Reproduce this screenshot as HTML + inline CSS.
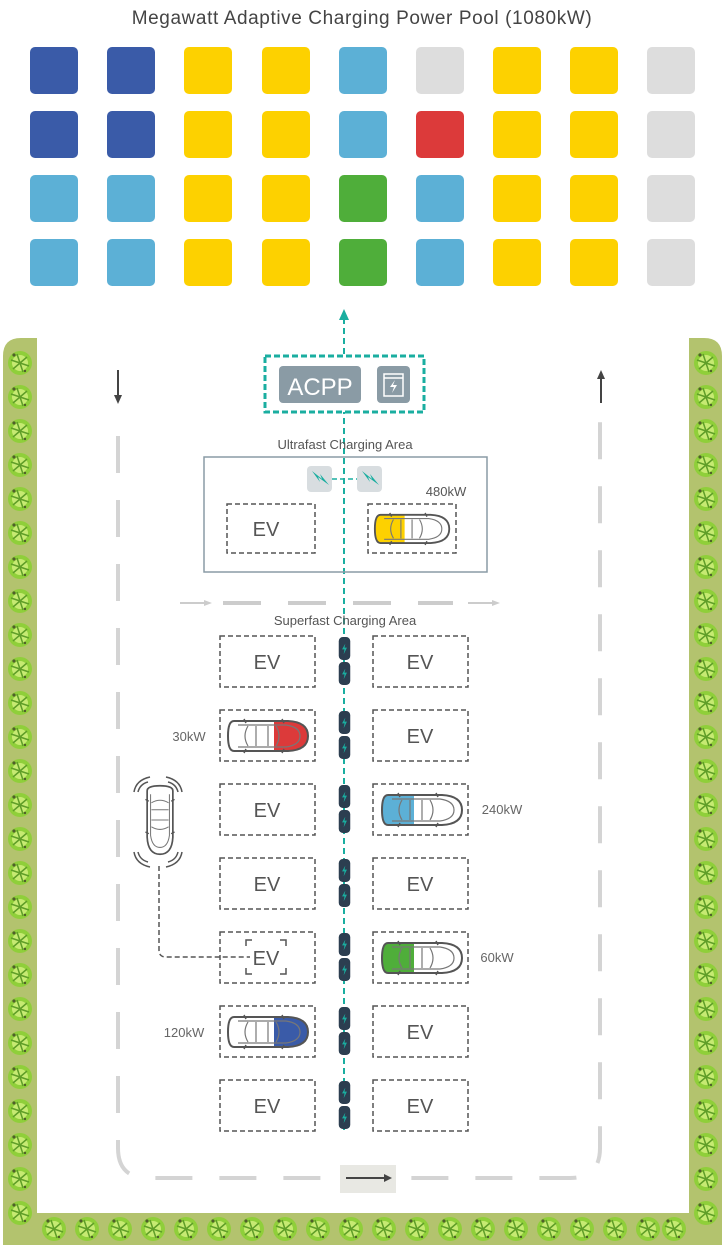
<!DOCTYPE html>
<html><head><meta charset="utf-8"><style>
html,body{margin:0;padding:0;background:#fff;}
svg{display:block;}
text{font-family:"Liberation Sans",sans-serif;}
</style></head><body>
<svg width="725" height="1247" viewBox="0 0 725 1247" xmlns="http://www.w3.org/2000/svg">
<defs>
  <symbol id="tree" viewBox="-13 -13 26 26">
    <circle r="12" fill="#8fcf3a"/>
    <circle r="8" fill="#c6ea72"/>
    <path d="M-9 -3 L9 3 M-3 -9 L3 9 M-7 6 L7 -6" stroke="#5f9e28" stroke-width="1.5"/>
    <circle cx="-6" cy="-8" r="1.6" fill="#4f5f2a"/>
    <circle cx="5" cy="8" r="1.2" fill="#4f5f2a"/>
  </symbol>
  <symbol id="bolt" viewBox="0 0 14 28">
    <rect x="0" y="0" width="14" height="28" rx="5" fill="#2c3e50"/>
    <path d="M8 8 L4 15 L7 15 L6 21 L10 13 L7 13 Z" fill="#1aaea0"/>
  </symbol>
  <symbol id="car" viewBox="0 0 84 36">
    <path d="M8 3 Q2 3 2 18 Q2 33 8 33 L62 33 Q82 32 82 18 Q82 4 62 3 Z" fill="none" stroke="#555" stroke-width="2"/>
    <path d="M12 7 L60 7 Q74 9 74 18 Q74 27 60 29 L12 29" fill="none" stroke="#777" stroke-width="1.2"/>
    <path d="M22 8 Q16 18 22 28 M50 8 Q56 18 50 28 M30 8 L30 28 M42 8 L42 28" fill="none" stroke="#777" stroke-width="1.2"/>
    <path d="M18 1 L20 5 M18 35 L20 31 M56 1 L58 5 M56 35 L58 31" stroke="#555" stroke-width="1.5"/>
  </symbol>
</defs>

<text x="362" y="24" text-anchor="middle" font-size="19" fill="#444" letter-spacing="0.6">Megawatt Adaptive Charging Power Pool (1080kW)</text>

<g id="grid">
<rect x="30" y="47" width="48" height="47" rx="5" fill="#3a5ba8"/>
<rect x="107" y="47" width="48" height="47" rx="5" fill="#3a5ba8"/>
<rect x="184" y="47" width="48" height="47" rx="5" fill="#fdd100"/>
<rect x="262" y="47" width="48" height="47" rx="5" fill="#fdd100"/>
<rect x="339" y="47" width="48" height="47" rx="5" fill="#5cb0d6"/>
<rect x="416" y="47" width="48" height="47" rx="5" fill="#dddddd"/>
<rect x="493" y="47" width="48" height="47" rx="5" fill="#fdd100"/>
<rect x="570" y="47" width="48" height="47" rx="5" fill="#fdd100"/>
<rect x="647" y="47" width="48" height="47" rx="5" fill="#dddddd"/>
<rect x="30" y="111" width="48" height="47" rx="5" fill="#3a5ba8"/>
<rect x="107" y="111" width="48" height="47" rx="5" fill="#3a5ba8"/>
<rect x="184" y="111" width="48" height="47" rx="5" fill="#fdd100"/>
<rect x="262" y="111" width="48" height="47" rx="5" fill="#fdd100"/>
<rect x="339" y="111" width="48" height="47" rx="5" fill="#5cb0d6"/>
<rect x="416" y="111" width="48" height="47" rx="5" fill="#dc3a3a"/>
<rect x="493" y="111" width="48" height="47" rx="5" fill="#fdd100"/>
<rect x="570" y="111" width="48" height="47" rx="5" fill="#fdd100"/>
<rect x="647" y="111" width="48" height="47" rx="5" fill="#dddddd"/>
<rect x="30" y="175" width="48" height="47" rx="5" fill="#5cb0d6"/>
<rect x="107" y="175" width="48" height="47" rx="5" fill="#5cb0d6"/>
<rect x="184" y="175" width="48" height="47" rx="5" fill="#fdd100"/>
<rect x="262" y="175" width="48" height="47" rx="5" fill="#fdd100"/>
<rect x="339" y="175" width="48" height="47" rx="5" fill="#4fae3a"/>
<rect x="416" y="175" width="48" height="47" rx="5" fill="#5cb0d6"/>
<rect x="493" y="175" width="48" height="47" rx="5" fill="#fdd100"/>
<rect x="570" y="175" width="48" height="47" rx="5" fill="#fdd100"/>
<rect x="647" y="175" width="48" height="47" rx="5" fill="#dddddd"/>
<rect x="30" y="239" width="48" height="47" rx="5" fill="#5cb0d6"/>
<rect x="107" y="239" width="48" height="47" rx="5" fill="#5cb0d6"/>
<rect x="184" y="239" width="48" height="47" rx="5" fill="#fdd100"/>
<rect x="262" y="239" width="48" height="47" rx="5" fill="#fdd100"/>
<rect x="339" y="239" width="48" height="47" rx="5" fill="#4fae3a"/>
<rect x="416" y="239" width="48" height="47" rx="5" fill="#5cb0d6"/>
<rect x="493" y="239" width="48" height="47" rx="5" fill="#fdd100"/>
<rect x="570" y="239" width="48" height="47" rx="5" fill="#fdd100"/>
<rect x="647" y="239" width="48" height="47" rx="5" fill="#dddddd"/>
</g>

<path d="M3 1245 L3 356 Q3 338 21 338 L37 338 L37 1213 L689 1213 L689 338 L704 338 Q722 338 722 356 L722 1245 Z" fill="#b3c36e"/>
<g id="trees">
<use href="#tree" x="7" y="350" width="26" height="26"/><use href="#tree" x="7" y="384" width="26" height="26"/><use href="#tree" x="7" y="418" width="26" height="26"/><use href="#tree" x="7" y="452" width="26" height="26"/><use href="#tree" x="7" y="486" width="26" height="26"/><use href="#tree" x="7" y="520" width="26" height="26"/><use href="#tree" x="7" y="554" width="26" height="26"/><use href="#tree" x="7" y="588" width="26" height="26"/><use href="#tree" x="7" y="622" width="26" height="26"/><use href="#tree" x="7" y="656" width="26" height="26"/><use href="#tree" x="7" y="690" width="26" height="26"/><use href="#tree" x="7" y="724" width="26" height="26"/><use href="#tree" x="7" y="758" width="26" height="26"/><use href="#tree" x="7" y="792" width="26" height="26"/><use href="#tree" x="7" y="826" width="26" height="26"/><use href="#tree" x="7" y="860" width="26" height="26"/><use href="#tree" x="7" y="894" width="26" height="26"/><use href="#tree" x="7" y="928" width="26" height="26"/><use href="#tree" x="7" y="962" width="26" height="26"/><use href="#tree" x="7" y="996" width="26" height="26"/><use href="#tree" x="7" y="1030" width="26" height="26"/><use href="#tree" x="7" y="1064" width="26" height="26"/><use href="#tree" x="7" y="1098" width="26" height="26"/><use href="#tree" x="7" y="1132" width="26" height="26"/><use href="#tree" x="7" y="1166" width="26" height="26"/><use href="#tree" x="7" y="1200" width="26" height="26"/>
<use href="#tree" x="693" y="350" width="26" height="26"/><use href="#tree" x="693" y="384" width="26" height="26"/><use href="#tree" x="693" y="418" width="26" height="26"/><use href="#tree" x="693" y="452" width="26" height="26"/><use href="#tree" x="693" y="486" width="26" height="26"/><use href="#tree" x="693" y="520" width="26" height="26"/><use href="#tree" x="693" y="554" width="26" height="26"/><use href="#tree" x="693" y="588" width="26" height="26"/><use href="#tree" x="693" y="622" width="26" height="26"/><use href="#tree" x="693" y="656" width="26" height="26"/><use href="#tree" x="693" y="690" width="26" height="26"/><use href="#tree" x="693" y="724" width="26" height="26"/><use href="#tree" x="693" y="758" width="26" height="26"/><use href="#tree" x="693" y="792" width="26" height="26"/><use href="#tree" x="693" y="826" width="26" height="26"/><use href="#tree" x="693" y="860" width="26" height="26"/><use href="#tree" x="693" y="894" width="26" height="26"/><use href="#tree" x="693" y="928" width="26" height="26"/><use href="#tree" x="693" y="962" width="26" height="26"/><use href="#tree" x="693" y="996" width="26" height="26"/><use href="#tree" x="693" y="1030" width="26" height="26"/><use href="#tree" x="693" y="1064" width="26" height="26"/><use href="#tree" x="693" y="1098" width="26" height="26"/><use href="#tree" x="693" y="1132" width="26" height="26"/><use href="#tree" x="693" y="1166" width="26" height="26"/><use href="#tree" x="693" y="1200" width="26" height="26"/>
<use href="#tree" x="41" y="1216" width="26" height="26"/><use href="#tree" x="74" y="1216" width="26" height="26"/><use href="#tree" x="107" y="1216" width="26" height="26"/><use href="#tree" x="140" y="1216" width="26" height="26"/><use href="#tree" x="173" y="1216" width="26" height="26"/><use href="#tree" x="206" y="1216" width="26" height="26"/><use href="#tree" x="239" y="1216" width="26" height="26"/><use href="#tree" x="272" y="1216" width="26" height="26"/><use href="#tree" x="305" y="1216" width="26" height="26"/><use href="#tree" x="338" y="1216" width="26" height="26"/><use href="#tree" x="371" y="1216" width="26" height="26"/><use href="#tree" x="404" y="1216" width="26" height="26"/><use href="#tree" x="437" y="1216" width="26" height="26"/><use href="#tree" x="470" y="1216" width="26" height="26"/><use href="#tree" x="503" y="1216" width="26" height="26"/><use href="#tree" x="536" y="1216" width="26" height="26"/><use href="#tree" x="569" y="1216" width="26" height="26"/><use href="#tree" x="602" y="1216" width="26" height="26"/><use href="#tree" x="635" y="1216" width="26" height="26"/><use href="#tree" x="661" y="1216" width="26" height="26"/>
</g>

<path d="M118 436 L118 1148 Q118 1178 148 1178 L570 1178 Q600 1178 600 1148 L600 413" fill="none" stroke="#d4d4d4" stroke-width="4" stroke-dasharray="37 27"/>
<rect x="340" y="1165" width="56" height="28" fill="#e8e8e3"/>
<path d="M346 1178 L384 1178" stroke="#444" stroke-width="2"/><path d="M384 1174 L392 1178 L384 1182 Z" fill="#444"/>
<path d="M118 370 L118 396" stroke="#444" stroke-width="2"/><path d="M114 395 L118 404 L122 395 Z" fill="#444"/>
<path d="M601 376 L601 403" stroke="#444" stroke-width="2"/><path d="M597 379 L601 370 L605 379 Z" fill="#444"/>

<path d="M180 603 L205 603" stroke="#ccc" stroke-width="2"/><path d="M204 600 L212 603 L204 606 Z" fill="#ccc"/>
<path d="M223 603 L453 603" stroke="#ccc" stroke-width="4" stroke-dasharray="38 27"/>
<path d="M468 603 L493 603" stroke="#ccc" stroke-width="2"/><path d="M492 600 L500 603 L492 606 Z" fill="#ccc"/>

<path d="M344 318 L344 1130" stroke="#1aaea0" stroke-width="2" stroke-dasharray="6 4"/>
<path d="M339 320 L344 309 L349 320 Z" fill="#1aaea0"/>

<rect x="265" y="356" width="159" height="56" fill="#fff" stroke="#1aaea0" stroke-width="3" stroke-dasharray="6 3"/>
<rect x="279" y="366" width="82" height="37" rx="4" fill="#8a9ba5"/>
<text x="320" y="395" text-anchor="middle" font-size="24" fill="#fff">ACPP</text>
<rect x="377" y="366" width="33" height="37" rx="4" fill="#8a9ba5"/>
<rect x="384" y="374" width="19" height="22" fill="none" stroke="#fff" stroke-width="1.5"/>
<path d="M384 378 L403 378" stroke="#fff" stroke-width="1.5"/>
<path d="M395 380 L390 387 L394 387 L392 393 L397 385 L393 385 Z" fill="#fff"/>

<text x="345" y="449" text-anchor="middle" font-size="13" fill="#555">Ultrafast Charging Area</text>
<rect x="204" y="457" width="283" height="115" fill="none" stroke="#8a9ba5" stroke-width="1.5"/>
<rect x="307" y="466" width="25" height="26" rx="4" fill="#d8dde0"/>
<rect x="357" y="466" width="25" height="26" rx="4" fill="#d8dde0"/>
<path d="M312 471 L322 479 L320 474 L329 485 L318 477 L320 482 Z" fill="#1aaea0"/>
<path d="M362 471 L372 479 L370 474 L379 485 L368 477 L370 482 Z" fill="#1aaea0"/>
<path d="M332 479 L357 479" stroke="#1aaea0" stroke-width="1.5" stroke-dasharray="5 3"/>
<text x="446" y="496" text-anchor="middle" font-size="13" fill="#555">480kW</text>
<rect x="227" y="504" width="88" height="49" fill="none" stroke="#555" stroke-width="1.5" stroke-dasharray="5 3"/>
<text x="266" y="536" text-anchor="middle" font-size="20" fill="#555">EV</text>
<rect x="368" y="504" width="88" height="49" fill="none" stroke="#555" stroke-width="1.5" stroke-dasharray="5 3"/>
<g transform="translate(373,512) scale(0.93,0.94)"><path d="M8 3 Q2 3 2 18 Q2 33 8 33 L34 33 L34 3 Z" fill="#fdd100"/><use href="#car" width="84" height="36"/></g>

<text x="345" y="625" text-anchor="middle" font-size="13" fill="#555">Superfast Charging Area</text>
<g fill="none" stroke="#555" stroke-width="1.5" stroke-dasharray="5 3">
<rect x="220" y="636" width="95" height="51"/><rect x="373" y="636" width="95" height="51"/>
<rect x="220" y="710" width="95" height="51"/><rect x="373" y="710" width="95" height="51"/>
<rect x="220" y="784" width="95" height="51"/><rect x="373" y="784" width="95" height="51"/>
<rect x="220" y="858" width="95" height="51"/><rect x="373" y="858" width="95" height="51"/>
<rect x="220" y="932" width="95" height="51"/><rect x="373" y="932" width="95" height="51"/>
<rect x="220" y="1006" width="95" height="51"/><rect x="373" y="1006" width="95" height="51"/>
<rect x="220" y="1080" width="95" height="51"/><rect x="373" y="1080" width="95" height="51"/>
</g>
<g font-size="20" fill="#555" text-anchor="middle">
<text x="267" y="669">EV</text><text x="420" y="669">EV</text>
<text x="420" y="743">EV</text>
<text x="267" y="817">EV</text>
<text x="267" y="891">EV</text><text x="420" y="891">EV</text>
<text x="266" y="965">EV</text>
<text x="420" y="1039">EV</text>
<text x="267" y="1113">EV</text><text x="420" y="1113">EV</text>
</g>
<g>
<use href="#bolt" x="338" y="637" width="13" height="23"/><use href="#bolt" x="338" y="662" width="13" height="23"/>
<use href="#bolt" x="338" y="711" width="13" height="23"/><use href="#bolt" x="338" y="736" width="13" height="23"/>
<use href="#bolt" x="338" y="785" width="13" height="23"/><use href="#bolt" x="338" y="810" width="13" height="23"/>
<use href="#bolt" x="338" y="859" width="13" height="23"/><use href="#bolt" x="338" y="884" width="13" height="23"/>
<use href="#bolt" x="338" y="933" width="13" height="23"/><use href="#bolt" x="338" y="958" width="13" height="23"/>
<use href="#bolt" x="338" y="1007" width="13" height="23"/><use href="#bolt" x="338" y="1032" width="13" height="23"/>
<use href="#bolt" x="338" y="1081" width="13" height="23"/><use href="#bolt" x="338" y="1106" width="13" height="23"/>
</g>

<g transform="translate(226,718)"><path d="M48 3 L62 3 Q82 4 82 18 Q82 32 62 33 L48 33 Z" fill="#dc3a3a"/><use href="#car" width="84" height="36"/></g>
<text x="189" y="741" text-anchor="middle" font-size="13" fill="#666">30kW</text>
<g transform="translate(380,792)"><path d="M8 3 Q2 3 2 18 Q2 33 8 33 L34 33 L34 3 Z" fill="#5cb0d6"/><use href="#car" width="84" height="36"/></g>
<text x="502" y="814" text-anchor="middle" font-size="13" fill="#666">240kW</text>
<g transform="translate(380,940)"><path d="M8 3 Q2 3 2 18 Q2 33 8 33 L34 33 L34 3 Z" fill="#4fae3a"/><use href="#car" width="84" height="36"/></g>
<text x="497" y="962" text-anchor="middle" font-size="13" fill="#666">60kW</text>
<g transform="translate(226,1014)"><path d="M48 3 L62 3 Q82 4 82 18 Q82 32 62 33 L48 33 Z" fill="#3a5ba8"/><use href="#car" width="84" height="36"/></g>
<text x="184" y="1037" text-anchor="middle" font-size="13" fill="#666">120kW</text>

<g transform="translate(178,784) rotate(90)"><use href="#car" width="72" height="36"/></g>
<g fill="none" stroke="#555" stroke-width="1.5">
<path d="M148 782 Q140 784 138 792 M150 777 Q136 780 134 792"/>
<path d="M168 782 Q176 784 178 792 M166 777 Q180 780 182 792"/>
<path d="M148 862 Q140 860 138 852 M150 867 Q136 864 134 852"/>
<path d="M168 862 Q176 860 178 852 M166 867 Q180 864 182 852"/>
</g>
<path d="M159 866 L159 950 Q159 957 166 957 L250 957" fill="none" stroke="#555" stroke-width="1.5" stroke-dasharray="5 3"/>
<g fill="none" stroke="#555" stroke-width="1.5">
<path d="M246 946 L246 940 L252 940 M280 940 L286 940 L286 946 M246 968 L246 974 L252 974 M280 974 L286 974 L286 968"/>
</g>
</svg>
</body></html>
